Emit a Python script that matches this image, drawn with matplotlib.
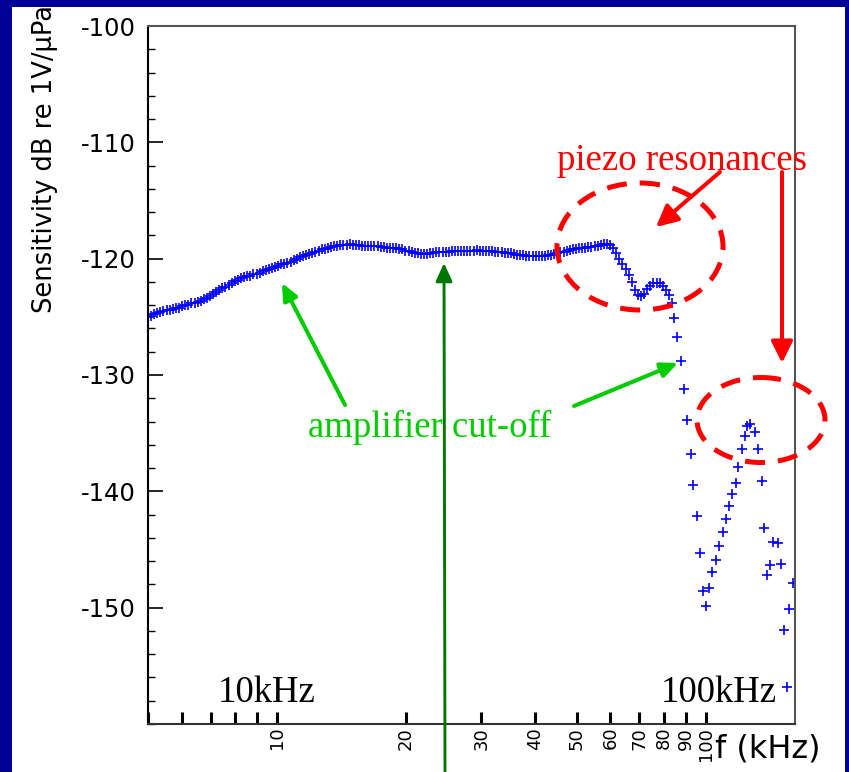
import matplotlib
matplotlib.use("Agg")
import matplotlib.pyplot as plt
from matplotlib.patches import Ellipse, Rectangle, FancyArrowPatch, ArrowStyle
from matplotlib.ticker import FixedLocator, FixedFormatter, MultipleLocator, NullLocator

# ---------------- data ----------------
freq_khz = [
    5.00, 5.08, 5.17, 5.26, 5.34, 5.43, 5.53, 5.62, 5.71, 5.81,
    5.91, 6.01, 6.11, 6.21, 6.31, 6.42, 6.53, 6.64, 6.75, 6.86,
    6.98, 7.09, 7.21, 7.33, 7.46, 7.58, 7.71, 7.84, 7.97, 8.11,
    8.24, 8.38, 8.52, 8.66, 8.81, 8.96, 9.11, 9.26, 9.42, 9.58,
    9.74, 9.90, 10.07, 10.24, 10.41, 10.58, 10.76, 10.94, 11.13, 11.31,
    11.50, 11.69, 11.89, 12.09, 12.29, 12.50, 12.71, 12.92, 13.14, 13.36,
    13.59, 13.82, 14.05, 14.29, 14.53, 14.77, 15.02, 15.27, 15.53, 15.79,
    16.05, 16.32, 16.59, 16.87, 17.16, 17.44, 17.74, 18.04, 18.34, 18.65,
    18.96, 19.28, 19.60, 19.93, 20.27, 20.61, 20.95, 21.31, 21.66, 22.03,
    22.40, 22.78, 23.16, 23.55, 23.94, 24.35, 24.75, 25.17, 25.59, 26.02,
    26.46, 26.90, 27.36, 27.82, 28.28, 28.76, 29.24, 29.73, 30.23, 30.74,
    31.26, 31.79, 32.32, 32.86, 33.41, 33.98, 34.55, 35.13, 35.72, 36.32,
    36.93, 37.55, 38.18, 38.82, 39.47, 40.14, 40.81, 41.50, 42.20, 42.91,
    43.62, 44.35, 45.10, 45.86, 46.63, 47.41, 48.20, 49.02, 49.84, 50.68,
    51.53, 52.40, 53.28, 54.17, 55.08, 56.01, 56.95, 57.90, 58.88, 59.87,
    60.87, 61.89, 62.93, 63.99, 65.06, 66.16, 67.27, 68.40, 69.55, 70.72,
    71.91, 73.12, 74.35, 75.60, 76.87, 78.16, 79.47, 80.81, 82.17,
    83.5, 84.5, 85.6, 87.6, 89.2, 90.6, 92.3, 93.6, 95.3, 97.0,
    98.5, 100.4, 102.0, 103.7, 105.7, 107.6, 109.6, 111.6, 113.4, 115.4,
    117.6, 119.2, 121.4, 123.6, 125.1, 127.0, 130.4, 132.7, 135.2, 137.0,
    139.3, 141.3, 143.9, 147.3, 149.7, 152.1, 154.6, 156.5, 160.2,
]
sens_db = [
    -125.0, -124.9, -124.75, -124.65, -124.6, -124.5, -124.45, -124.4, -124.3, -124.25,
    -124.2, -124.1, -124.0, -123.95, -123.85, -123.8, -123.7, -123.6, -123.5, -123.4,
    -123.2, -123.05, -122.9, -122.7, -122.55, -122.4, -122.25, -122.05, -121.9, -121.8,
    -121.7, -121.6, -121.5, -121.45, -121.35, -121.3, -121.2, -121.1, -121.0, -120.9,
    -120.8, -120.7, -120.6, -120.5, -120.45, -120.35, -120.25, -120.15, -120.0, -119.85,
    -119.75, -119.7, -119.6, -119.5, -119.4, -119.3, -119.2, -119.15, -119.1, -119.0,
    -118.95, -118.9, -118.85, -118.8, -118.8, -118.75, -118.8, -118.8, -118.85, -118.9,
    -118.9, -118.9, -118.9, -118.95, -118.95, -119.0, -119.0, -119.05, -119.1, -119.1,
    -119.1, -119.15, -119.2, -119.3, -119.35, -119.45, -119.5, -119.55, -119.6, -119.6,
    -119.6, -119.55, -119.5, -119.45, -119.4, -119.4, -119.4, -119.4, -119.35, -119.35,
    -119.35, -119.35, -119.35, -119.35, -119.3, -119.3, -119.25, -119.3, -119.3, -119.35,
    -119.35, -119.35, -119.4, -119.4, -119.45, -119.5, -119.5, -119.55, -119.6, -119.65,
    -119.7, -119.7, -119.75, -119.8, -119.8, -119.8, -119.8, -119.8, -119.75, -119.7,
    -119.7, -119.6, -119.5, -119.45, -119.4, -119.3, -119.25, -119.2, -119.15, -119.1,
    -119.1, -119.05, -119.0, -119.0, -118.95, -118.9, -118.85, -118.75, -118.7, -118.8,
    -119.1, -119.5, -120.0, -120.5, -120.9, -121.4, -122.0, -122.7, -123.1, -123.25,
    -123.0, -122.65, -122.35, -122.1, -122.05, -122.1, -122.35, -122.7, -123.15,
    -123.8, -125.1, -126.74, -128.8, -131.24, -133.88, -136.83, -139.47, -142.09, -145.31,
    -148.56, -149.85, -148.35, -146.92, -145.94, -144.74, -143.51, -142.42, -141.25, -140.24,
    -139.32, -137.95, -136.4, -135.25, -134.37, -134.25, -134.88, -136.37, -139.12, -143.16,
    -147.18, -146.29, -144.39, -144.43, -146.26, -151.91, -156.81, -150.15, -147.87,
]

xtick_values = [5, 6, 7, 8, 9, 10, 20, 30, 40, 50, 60, 70, 80, 90, 100]
xtick_labels = ["", "", "", "", "", "10", "20", "30", "40", "50", "60", "70", "80", "90", "100"]
ytick_values = [-150, -140, -130, -120, -110, -100]
ytick_labels = ["-150", "-140", "-130", "-120", "-110", "-100"]

y_label = "Sensitivity dB re 1V/\u03bcPa"
x_label = "f (kHz)"

# ---------------- figure ----------------
W, H = 849, 772
fig = plt.figure(figsize=(W / 100, H / 100), dpi=100, facecolor="#000099")
fig.add_artist(Rectangle((12 / W, 0), (845 - 12) / W, (H - 7) / H,
                         transform=fig.transFigure, facecolor="white",
                         edgecolor="none", zorder=-1))

ax = fig.add_axes([148 / W, (H - 724) / H, (795 - 148) / W, (724 - 26) / H])
ax.set_xscale("log")
ax.plot(freq_khz, sens_db, linestyle="none", marker="+", color="#0000ff",
        markersize=7.2, markeredgewidth=1.2)
ax.set_xlim(5, 161.7)
ax.set_ylim(-160, -100)

ax.xaxis.set_major_locator(FixedLocator(xtick_values))
ax.xaxis.set_major_formatter(FixedFormatter(xtick_labels))
ax.xaxis.set_minor_locator(NullLocator())
ax.set_yticks(ytick_values)
ax.set_yticklabels(ytick_labels)
ax.yaxis.set_minor_locator(MultipleLocator(2))

ax.tick_params(axis="x", which="major", direction="in", length=8.5, width=2.2,
               pad=2, labelsize=13, labelrotation=90, color="black")
ax.tick_params(axis="y", which="major", direction="in", length=10.5, width=1.2,
               pad=8.6, labelsize=17.5, color="black")
ax.tick_params(axis="y", which="minor", direction="in", length=5, width=1.0)

for side in ("top", "right"):
    ax.spines[side].set_color("#555555")
    ax.spines[side].set_linewidth(1.5)
ax.spines["left"].set_color("black")
ax.spines["left"].set_linewidth(1.5)
ax.spines["bottom"].set_color("#333333")
ax.spines["bottom"].set_linewidth(1.5)

# ---------------- overlay in pixel coordinates ----------------
ov = fig.add_axes([0, 0, 1, 1], facecolor="none")
ov.set_xlim(0, W)
ov.set_ylim(H, 0)
ov.set_axis_off()

ov.text(45, 159, y_label, rotation=90, ha="center", va="center", fontsize=18.5,
        color="black", family="DejaVu Sans")
ov.text(715, 757, x_label, ha="left", va="baseline", fontsize=23,
        color="black", family="DejaVu Sans")

serif = "Liberation Serif"
ov.text(267, 702, "10kHz", ha="center", va="baseline", fontsize=26.5, family=serif, color="black")
ov.text(719, 702, "100kHz", ha="center", va="baseline", fontsize=26.5, family=serif, color="black")
ov.text(682, 170, "piezo resonances", ha="center", va="baseline", fontsize=26.5,
        family=serif, color="#ff0000")
ov.text(430, 437, "amplifier cut-off", ha="center", va="baseline", fontsize=26.5,
        family=serif, color="#00cc00")

dash = (0, (4, 2.6))
ov.add_patch(Ellipse((640, 246.5), 166, 127, fill=False, edgecolor="#ff0000",
                     linewidth=3.6, linestyle=dash))
ov.add_patch(Ellipse((761, 420), 128, 85, fill=False, edgecolor="#ff0000",
                     linewidth=3.6, linestyle=dash))


def arrow(p0, p1, color, lw, hl, hw):
    ov.add_patch(FancyArrowPatch(p0, p1, arrowstyle=ArrowStyle("-|>", head_length=hl, head_width=hw),
                                 mutation_scale=1, color=color, linewidth=lw,
                                 shrinkA=0, shrinkB=0))


arrow((720, 172), (656, 227), "#ff0000", 2.9, 13, 6.5)
arrow((782, 172), (782, 363), "#ff0000", 2.9, 13, 6.5)
arrow((345, 405), (282, 283), "#00cc00", 2.9, 10, 4.5)
arrow((574, 406), (678, 363), "#00cc00", 2.9, 10, 4.5)
arrow((445, 772), (444, 263), "#007700", 2.1, 11, 5)

fig.savefig("out.png", dpi=100, facecolor=fig.get_facecolor())
